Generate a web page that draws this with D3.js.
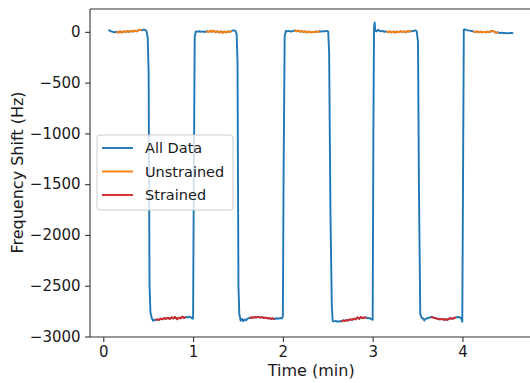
<!DOCTYPE html>
<html>
<head>
<meta charset="utf-8">
<script src="https://cdn.jsdelivr.net/npm/d3@7"></script>
<style>
  html, body { margin: 0; padding: 0; background: #fff; overflow: hidden; }
  svg { display: block; font-family: "DejaVu Sans", sans-serif; }
</style>
</head>
<body>
<svg id="chart" width="530" height="383"></svg>
<script>
// ---- Data ----
const timeMin = [
  0.067,0.087,0.107,0.127,0.147,0.167,0.187,0.207,0.227,0.247,0.267,0.287,0.307,0.327,0.347,0.367,0.387,0.407,0.427,0.447,0.467,0.480,0.495,0.505,0.515,0.525,0.540,0.555,0.570,
  0.58,0.60,0.62,0.64,0.66,0.68,0.70,0.72,0.74,0.76,0.78,0.80,0.82,0.84,0.86,0.88,0.90,0.92,0.94,0.96,0.98,0.995,1.000,1.008,1.018,1.030,
  1.05,1.07,1.09,1.11,1.13,1.15,1.17,1.19,1.21,1.23,1.25,1.27,1.29,1.31,1.33,1.35,1.37,1.39,1.41,1.43,1.45,1.47,1.485,1.495,1.505,1.515,1.53,
  1.545,1.56,1.575,1.59,1.61,1.63,1.65,1.67,1.69,1.71,1.73,1.75,1.77,1.79,1.81,1.83,1.85,1.87,1.89,1.91,1.93,1.95,1.97,1.99,2.000,2.008,2.02,2.035,
  2.05,2.07,2.09,2.11,2.13,2.15,2.17,2.19,2.21,2.23,2.25,2.27,2.29,2.31,2.33,2.35,2.37,2.39,2.41,2.43,2.45,2.47,2.49,2.505,2.515,2.53,2.545,2.555,
  2.57,2.59,2.61,2.63,2.65,2.67,2.69,2.71,2.73,2.75,2.77,2.79,2.81,2.83,2.85,2.87,2.89,2.91,2.93,2.95,2.97,2.99,3.000,3.008,3.015,3.022,3.03,
  3.045,3.06,3.075,3.09,3.11,3.13,3.15,3.17,3.19,3.21,3.23,3.25,3.27,3.29,3.31,3.33,3.35,3.37,3.39,3.41,3.43,3.45,3.47,3.49,3.505,3.515,3.53,3.545,
  3.56,3.575,3.59,3.61,3.63,3.65,3.67,3.69,3.71,3.73,3.75,3.77,3.79,3.81,3.83,3.85,3.87,3.89,3.91,3.93,3.95,3.97,3.99,3.998,4.006,4.015,4.025,
  4.04,4.06,4.08,4.10,4.12,4.14,4.16,4.18,4.20,4.22,4.24,4.26,4.28,4.30,4.32,4.34,4.36,4.38,4.40,4.42,4.44,4.46,4.48,4.50,4.52,4.54,4.555
];
const freqShift = [
  15,5,0,-5,2,-8,5,-6,6,-3,8,0,10,3,12,5,15,20,14,22,18,10,-60,-400,-2500,-2760,-2820,-2845,-2835,
  -2838,-2832,-2836,-2825,-2830,-2818,-2826,-2815,-2828,-2812,-2822,-2808,-2830,-2815,-2820,-2805,-2818,-2808,-2812,-2805,-2815,-2825,-2820,-1500,-50,5,
  2,6,0,4,-2,8,-3,10,0,12,-4,6,-6,5,-8,2,-5,4,-2,10,15,12,-20,-300,-2500,-2780,-2845,
  -2825,-2850,-2832,-2840,-2822,-2818,-2812,-2815,-2808,-2812,-2806,-2814,-2810,-2818,-2815,-2822,-2818,-2826,-2822,-2828,-2820,-2825,-2818,-2822,-2800,-1400,-40,10,
  5,10,2,8,14,6,12,2,8,-2,5,-5,3,-6,0,-4,4,-2,6,2,8,5,10,2,-200,-1800,-2700,-2848,
  -2852,-2846,-2855,-2848,-2852,-2842,-2846,-2838,-2842,-2832,-2836,-2825,-2830,-2812,-2826,-2808,-2820,-2812,-2815,-2818,-2822,-2832,-2835,-1000,40,92,10,
  5,20,12,5,10,0,6,-4,4,-6,2,-8,3,-3,6,-2,4,-5,8,2,10,6,15,8,-100,-1500,-2780,-2815,
  -2822,-2842,-2825,-2820,-2815,-2808,-2812,-2818,-2822,-2828,-2832,-2826,-2835,-2830,-2836,-2825,-2820,-2826,-2815,-2812,-2808,-2810,-2830,-2855,-1500,20,25,
  20,15,12,8,5,-2,4,-4,2,-6,0,-4,3,-2,6,10,-4,-8,-5,-12,-8,-14,-10,-15,-12,-10,-12
];
// time windows (min) in which the sensor was unstrained / strained
const unstrainedWindows = [[0.13,0.43],[1.15,1.44],[2.13,2.41],[3.15,3.43],[4.12,4.40]];
const strainedWindows   = [[0.58,0.93],[1.63,1.91],[2.64,2.93],[3.64,3.94]];
const xTicks = [0,1,2,3,4];
const yTicks = [0,-500,-1000,-1500,-2000,-2500,-3000];
const seriesNames = ["All Data","Unstrained","Strained"];
const seriesColors = ["#1f77b4","#ff7f0e","#d62728"];

// ---- Layout ----
const svg = d3.select("#chart");
const pLeft = 90, pTop = 9, pBottom = 337, pRight = 532.5;
const visibleRight = 530;

const x = d3.scaleLinear().domain([-0.148, 4.78]).range([pLeft, pRight]);
const y = d3.scaleLinear().domain([-3005, 225]).range([pBottom, pTop]);

const allData = timeMin.map((t,i)=>({t, v: freqShift[i]}));
function inWindows(wins){
  return wins.map(([a,b]) => allData.filter(d => d.t >= a - 1e-9 && d.t <= b + 1e-9));
}
const unstrainedSegs = inWindows(unstrainedWindows);
const strainedSegs = inWindows(strainedWindows);

const line = d3.line().x(d=>x(d.t)).y(d=>y(d.v));

const plot = svg.append("g");
plot.append("path").datum(allData).attr("d", line)
  .attr("fill","none").attr("stroke",seriesColors[0]).attr("stroke-width",1.9)
  .attr("stroke-linejoin","round").attr("stroke-linecap","square");
unstrainedSegs.forEach(seg => plot.append("path").datum(seg).attr("d", line)
  .attr("fill","none").attr("stroke",seriesColors[1]).attr("stroke-width",1.9)
  .attr("stroke-linejoin","round"));
strainedSegs.forEach(seg => plot.append("path").datum(seg).attr("d", line)
  .attr("fill","none").attr("stroke",seriesColors[2]).attr("stroke-width",1.9)
  .attr("stroke-linejoin","round"));

// ---- Axes ----
const axisColor = "#333";
const textColor = "#1a1a1a";
const xAxis = d3.axisBottom(x).tickValues(xTicks).tickSize(4.9).tickPadding(4.5).tickFormat(d3.format("d"));
const gx = svg.append("g").attr("transform",`translate(0,${pBottom})`).call(xAxis);
gx.select(".domain").remove();
gx.selectAll("line").attr("stroke",axisColor).attr("stroke-width",1.1);
gx.selectAll("text").attr("font-size",15).attr("fill",textColor).attr("font-family","DejaVu Sans");

const fmtY = d => d < 0 ? "\u2212" + Math.abs(d) : String(d);
const yAxis = d3.axisLeft(y).tickValues(yTicks).tickSize(4.9).tickPadding(4.5).tickFormat(fmtY);
const gy = svg.append("g").attr("transform",`translate(${pLeft},0)`).call(yAxis);
gy.select(".domain").remove();
gy.selectAll("line").attr("stroke",axisColor).attr("stroke-width",1.1);
gy.selectAll("text").attr("font-size",15).attr("fill",textColor).attr("font-family","DejaVu Sans");

// spines (the right spine falls outside the cropped picture)
svg.append("line").attr("x1",pLeft).attr("x2",pLeft).attr("y1",pTop).attr("y2",pBottom).attr("stroke",axisColor).attr("stroke-width",1.1);
svg.append("line").attr("x1",pLeft).attr("x2",visibleRight).attr("y1",pBottom).attr("y2",pBottom).attr("stroke",axisColor).attr("stroke-width",1.1);
svg.append("line").attr("x1",pLeft).attr("x2",visibleRight).attr("y1",pTop).attr("y2",pTop).attr("stroke",axisColor).attr("stroke-width",1.1);

// axis labels
svg.append("text").attr("x",(pLeft+pRight)/2).attr("y",376).attr("text-anchor","middle")
  .attr("font-size",16).attr("fill",textColor).text("Time (min)");
svg.append("text").attr("transform",`translate(23,172.5) rotate(-90)`).attr("text-anchor","middle")
  .attr("font-size",16).attr("fill",textColor).text("Frequency Shift (Hz)");

// ---- Legend ----
const lg = svg.append("g");
lg.append("rect").attr("x",97).attr("y",135).attr("width",136).attr("height",75).attr("rx",3)
  .attr("fill","#fff").attr("fill-opacity",0.8).attr("stroke","#cccccc").attr("stroke-width",1);
seriesNames.forEach((name,i)=>{
  const cy = 148 + i*23.5;
  lg.append("line").attr("x1",102).attr("x2",133).attr("y1",cy).attr("y2",cy)
    .attr("stroke",seriesColors[i]).attr("stroke-width",1.9);
  lg.append("text").attr("x",145).attr("y",cy).attr("dy","0.36em")
    .attr("font-size",14.5).attr("fill",textColor).text(name);
});
</script>
</body>
</html>
